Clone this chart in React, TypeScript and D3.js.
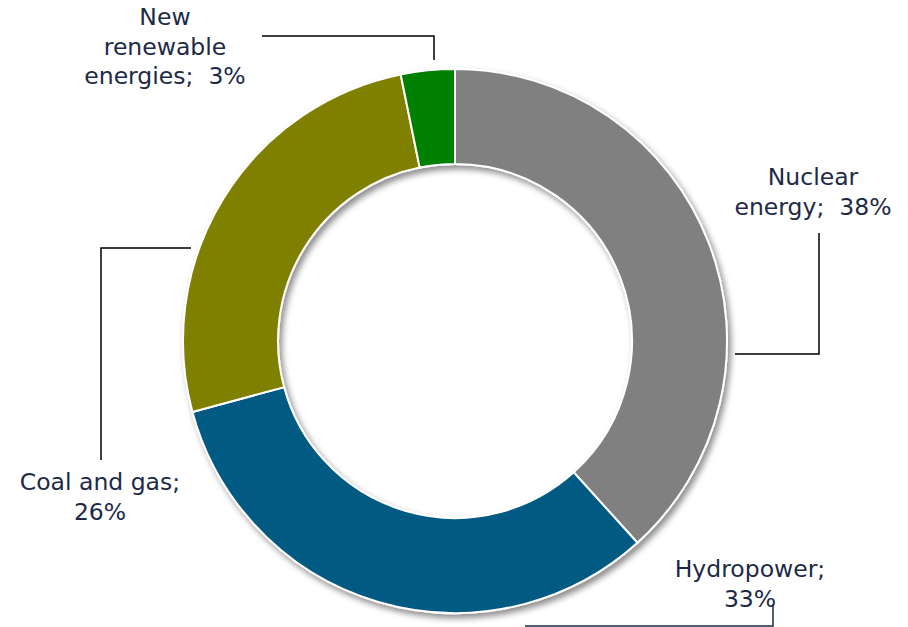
import * as d3 from "d3";
import React from "react";

const categories = ["Nuclear energy", "Hydropower", "Coal and gas", "New renewable energies"];
// shares read from the slice boundaries (labels show rounded values)
const shares = [38.3, 32.5, 26.0, 3.2];
const colors = ["#808080", "#005a82", "#808000", "#008000"];

// label text lines and leader layout (page pixels)
const labelLines = [
  ["Nuclear", "energy;\u00a0 38%"],
  ["Hydropower;", "33%"],
  ["Coal and gas;", "26%"],
  ["New", "renewable", "energies;\u00a0 3%"],
];
const labelPos = [
  { x: 813, y: 185 },
  { x: 750, y: 577 },
  { x: 100, y: 490 },
  { x: 165, y: 25 },
];
const leaders: [number, number][][] = [
  [[735, 354], [819, 354], [819, 233]],
  [[525, 626], [773, 626], [773, 604]],
  [[191, 248], [101, 248], [101, 460]],
  [[262, 36], [434, 36], [434, 60]],
];

const W = 908;
const H = 627;
const cx = 455;
const cy = 341;
const rOuter = 272;
const rInner = 177;

export default function App() {
  const pie = d3
    .pie<number>()
    .sort(null)
    .startAngle(0)
    .endAngle(2 * Math.PI);
  const arcs = pie(shares);
  const arc = d3.arc<d3.PieArcDatum<number>>().innerRadius(rInner).outerRadius(rOuter);
  const line = d3.line();

  return (
    <svg
      width={W}
      height={H}
      style={{ position: "absolute", left: 0, top: 0, background: "#fff" }}
      fontFamily="'DejaVu Sans', Verdana, sans-serif"
    >
      <defs>
        <filter id="shadow" x="-20%" y="-20%" width="140%" height="140%">
          <feDropShadow dx="3" dy="4" stdDeviation="3" floodColor="#000" floodOpacity="0.45" />
        </filter>
      </defs>
      <g transform={`translate(${cx},${cy})`} filter="url(#shadow)">
        {arcs.map((a, i) => (
          <path key={categories[i]} d={arc(a) ?? ""} fill={colors[i]} stroke="#fff" strokeWidth={2} />
        ))}
      </g>
      {leaders.map((pts, i) => (
        <path
          key={"l" + i}
          d={line(pts) ?? ""}
          fill="none"
          stroke={i === 1 ? "#1c2a48" : "#000"}
          strokeWidth={1.5}
        />
      ))}
      {labelLines.map((lines, i) => (
        <text
          key={"t" + i}
          x={labelPos[i].x}
          y={labelPos[i].y}
          textAnchor="middle"
          fontSize={23.5}
          fill="#1c2a48"
        >
          {lines.map((s, j) => (
            <tspan key={j} x={labelPos[i].x} dy={j === 0 ? 0 : 29.5}>
              {s}
            </tspan>
          ))}
        </text>
      ))}
    </svg>
  );
}
